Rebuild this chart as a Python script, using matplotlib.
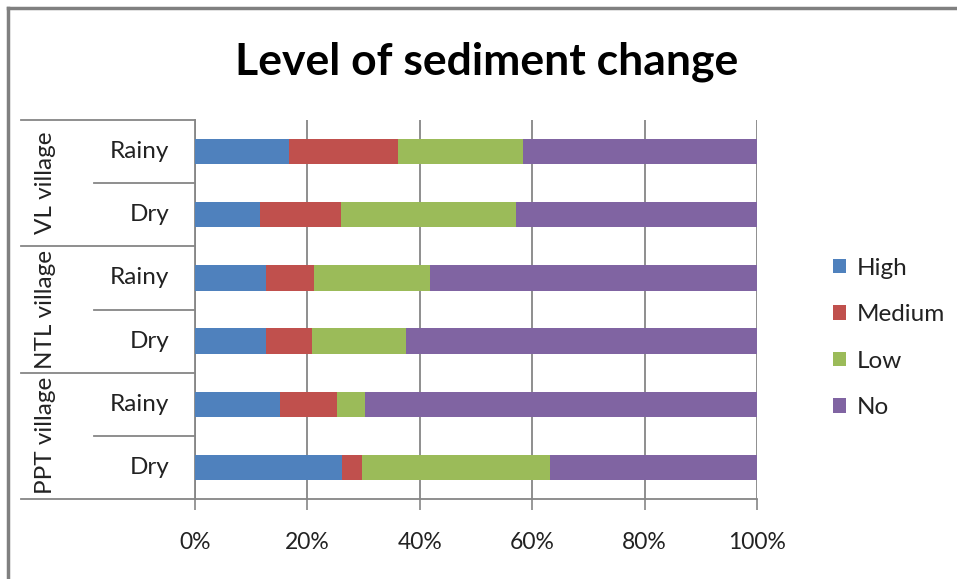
import matplotlib.pyplot as plt
import numpy as np
from matplotlib.lines import Line2D
from matplotlib.transforms import blended_transform_factory

# Share of responses per level (percent), rows listed bottom to top
villages = ['PPT village', 'NTL village', 'VL village']
seasons = ['Dry', 'Rainy']
levels = ['High', 'Medium', 'Low', 'No']
colors = ['#4F81BD', '#C0504D', '#9BBB59', '#8064A2']

high = [26.1, 15.1, 12.6, 12.6, 11.5, 16.7]
medium = [3.6, 10.1, 8.2, 8.5, 14.4, 19.4]
low = [33.4, 5.0, 16.7, 20.7, 31.2, 22.2]
no = [36.9, 69.8, 62.5, 58.2, 42.9, 41.7]

plt.rcParams['font.family'] = ['Lato', 'DejaVu Sans']

W, H = 957, 579
fig = plt.figure(figsize=(W / 100, H / 100), dpi=100)
ax = fig.add_axes([195 / W, (H - 499) / H, 562 / W, 379 / H])

grid_col = '#868686'
txt_col = '#222222'
y = np.arange(len(high))
left = np.zeros(len(high))
for name, vals, c in zip(levels, [high, medium, low, no], colors):
    ax.barh(y, vals, left=left, height=0.4, color=c, label=name,
            edgecolor='none', zorder=3)
    left += np.array(vals)

ax.set_xlim(0, 100)
ax.set_ylim(-0.5, len(high) - 0.5)
ax.set_xticks(range(0, 101, 20))
ax.set_xticklabels([f'{v}%' for v in range(0, 101, 20)])
ax.set_yticks([])
ax.tick_params(axis='x', length=8, width=1.2, color=grid_col, labelsize=16.5,
               labelcolor=txt_col, pad=16)
ax.grid(axis='x', color=grid_col, linewidth=1.3, zorder=0)
for s in ['top', 'right']:
    ax.spines[s].set_visible(False)
for s in ['left', 'bottom']:
    ax.spines[s].set_color(grid_col)
    ax.spines[s].set_linewidth(1.3)

# Two-level category axis drawn on the left
tr = blended_transform_factory(fig.transFigure, ax.transData)
for yy in [5.5, 3.5, 1.5, -0.5]:
    ax.add_line(Line2D([21 / W, 195 / W], [yy, yy], transform=tr,
                       color=grid_col, lw=1.3, clip_on=False))
for yy in [4.5, 2.5, 0.5]:
    ax.add_line(Line2D([94 / W, 195 / W], [yy, yy], transform=tr,
                       color=grid_col, lw=1.3, clip_on=False))

for i in range(len(high)):
    ax.text(169 / W, i, seasons[i % 2], transform=tr, ha='right',
            va='center', fontsize=17.5, color=txt_col)
for g, name in enumerate(villages):
    ax.text(45 / W, 2 * g + 0.5, name, transform=tr, ha='center',
            va='center', rotation=90, fontsize=17.5, color=txt_col)

fig.text(487 / W, (H - 62) / H, 'Level of sediment change', fontsize=32,
         fontweight='bold', ha='center', va='center', color='black')

ax.legend(loc='center left', bbox_to_anchor=(823 / W, (H - 338) / H),
          bbox_transform=fig.transFigure, frameon=False, fontsize=17.5,
          handlelength=0.55, handleheight=0.55, handletextpad=0.45,
          labelspacing=1.05, borderaxespad=0, labelcolor=txt_col)

# Outer chart border (top and left edges)
fig.add_artist(Line2D([8 / W, 1], [(H - 8) / H, (H - 8) / H],
                      transform=fig.transFigure, color='#808080', lw=2.5))
fig.add_artist(Line2D([8 / W, 8 / W], [0, (H - 8) / H],
                      transform=fig.transFigure, color='#808080', lw=2.5))

fig.savefig('out.png', dpi=100)
